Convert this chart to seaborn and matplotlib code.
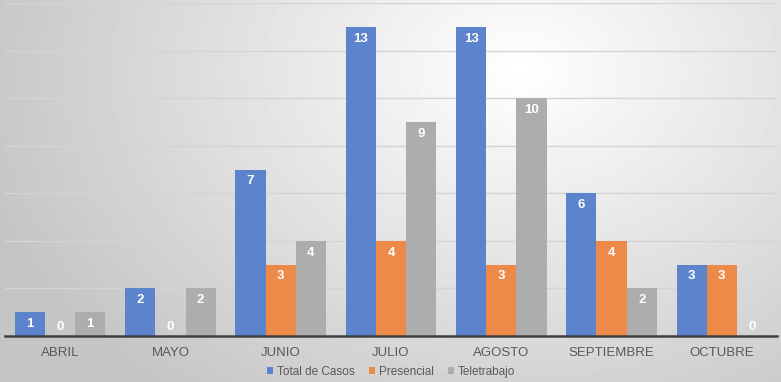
import numpy as np
import pandas as pd
import matplotlib.pyplot as plt
import seaborn as sns

# Data
meses = ['ABRIL', 'MAYO', 'JUNIO', 'JULIO', 'AGOSTO', 'SEPTIEMBRE', 'OCTUBRE']
total_casos = [1, 2, 7, 13, 13, 6, 3]
presencial = [0, 0, 3, 4, 3, 4, 3]
teletrabajo = [1, 2, 4, 9, 10, 2, 0]
series = ['Total de Casos', 'Presencial', 'Teletrabajo']
colores = ['#5B84CC', '#EC8A4A', '#ADADAD']

df = pd.DataFrame({
    'mes': meses * 3,
    'serie': [s for s in series for _ in meses],
    'valor': total_casos + presencial + teletrabajo,
})

sns.set_style('white')
plt.rcParams['font.family'] = ['Liberation Sans', 'DejaVu Sans']

fig = plt.figure(figsize=(7.81, 3.82), dpi=100)

# Radial gradient background
bg = fig.add_axes([0, 0, 1, 1], zorder=-10)
yy, xx = np.mgrid[0:382, 0:781]
r = np.sqrt(((xx - 520) / 560.0) ** 2 + ((yy - 70) / 420.0) ** 2)
r = np.clip(r, 0, 1)
shade = 1.0 - 0.23 * r
bg.imshow(shade, cmap='gray', vmin=0, vmax=1, aspect='auto', interpolation='bilinear')
bg.axis('off')

ax = fig.add_axes([5 / 781, 46 / 382, 772 / 781, 333 / 382])
ax.patch.set_alpha(0)

sns.barplot(data=df, x='mes', y='valor', hue='serie', order=meses,
            hue_order=series, palette=colores, width=0.82, ax=ax,
            saturation=1, legend=True, edgecolor='none')

ax.set_ylim(0, 14)
ax.set_xlim(-0.5, len(meses) - 0.5)
for v in range(2, 15, 2):
    ax.axhline(v, color='#d4d4d4', lw=1, zorder=0)
ax.set_yticks([])
ax.set_xlabel('')
ax.set_ylabel('')
for s in ['top', 'right', 'left']:
    ax.spines[s].set_visible(False)
ax.spines['bottom'].set_color('#404040')
ax.spines['bottom'].set_linewidth(1.8)
ax.tick_params(axis='x', length=0, pad=8, labelsize=9.5, colors='#595959')

# Value labels
for cont in ax.containers:
    for bar in cont:
        h = bar.get_height()
        xc = bar.get_x() + bar.get_width() / 2
        if h > 0:
            ax.annotate(f'{int(h)}', (xc, h), xytext=(0, -8.5), textcoords='offset points',
                        ha='center', va='center', color='white', fontsize=9.5, fontweight='bold')
        else:
            ax.annotate('0', (xc, 0), xytext=(0, 6.5), textcoords='offset points',
                        ha='center', va='center', color='white', fontsize=9.5, fontweight='bold')

leg = ax.legend(loc='center', bbox_to_anchor=(0.5, -0.108), ncol=3, frameon=False,
                fontsize=8.5, handlelength=0.55, handleheight=0.55, handletextpad=0.3,
                columnspacing=1.2, labelcolor='#595959', borderpad=0)

fig.savefig('out.png', dpi=100)
